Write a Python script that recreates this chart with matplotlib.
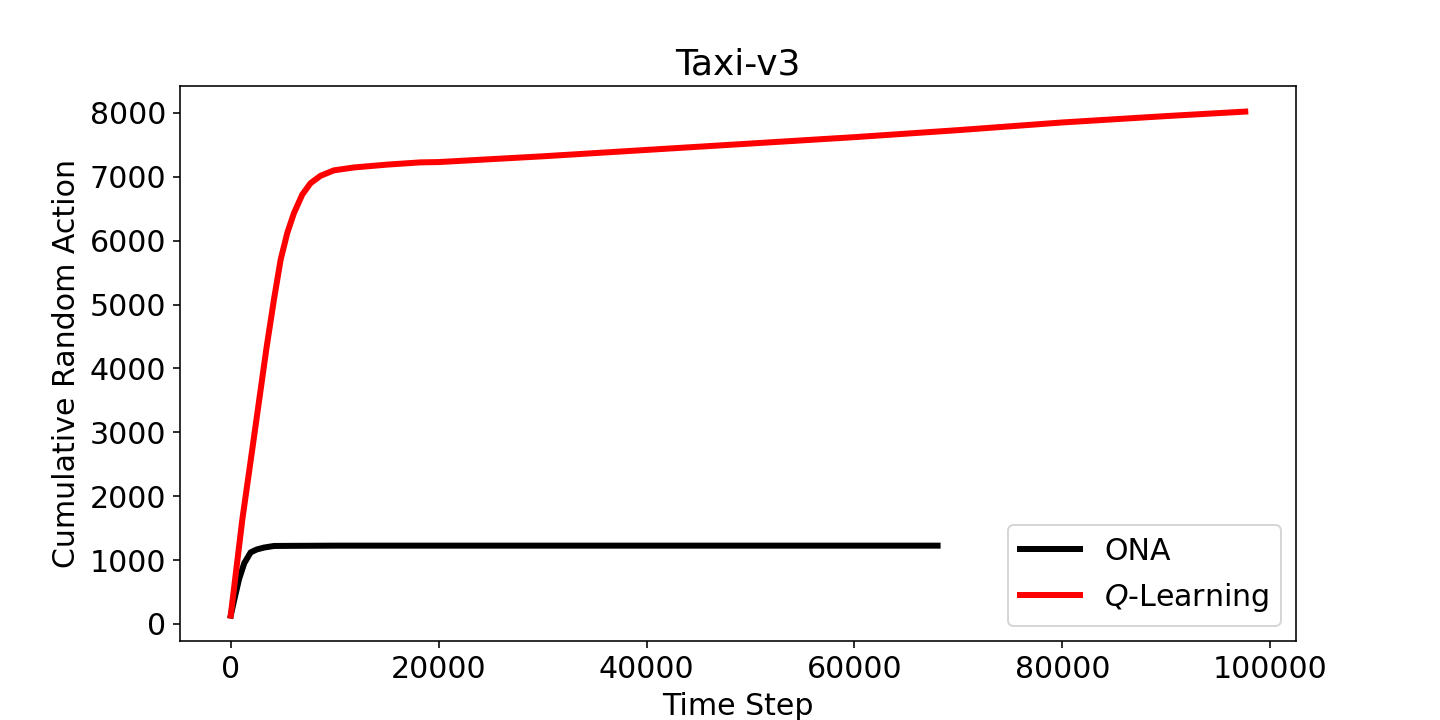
import matplotlib
matplotlib.use("Agg")
import matplotlib.pyplot as plt

# ONA
ona_t = [0, 400, 800, 1300, 1920, 2500, 3200, 4160, 6000, 10000, 20000, 40000, 60000, 68000]
ona_y = [130, 420, 700, 950, 1120, 1165, 1195, 1220, 1222, 1225, 1225, 1225, 1225, 1225]

# Q-Learning
q_t = [0, 1120, 2000, 3450, 4160, 4800, 5440, 6080, 6880, 7680, 8640, 9920, 11830,
       15040, 18230, 20000, 30000, 40000, 50000, 60000, 70000, 80000, 90000, 97600]
q_y = [130, 1640, 2650, 4330, 5080, 5700, 6120, 6430, 6720, 6900, 7015, 7100, 7145,
       7190, 7225, 7230, 7320, 7420, 7520, 7620, 7730, 7850, 7950, 8020]

plt.rcParams['font.size'] = 15
fig, ax = plt.subplots(figsize=(10, 5), dpi=144)
ax.plot(ona_t, ona_y, color='black', lw=3, label='ONA')
ax.plot(q_t, q_y, color='red', lw=3, label='$Q$-Learning')
ax.set_title('Taxi-v3', fontsize=18)
ax.set_xlabel('Time Step')
ax.set_ylabel('Cumulative Random Action')
ax.legend(loc='lower right')
fig.savefig('out.png')
